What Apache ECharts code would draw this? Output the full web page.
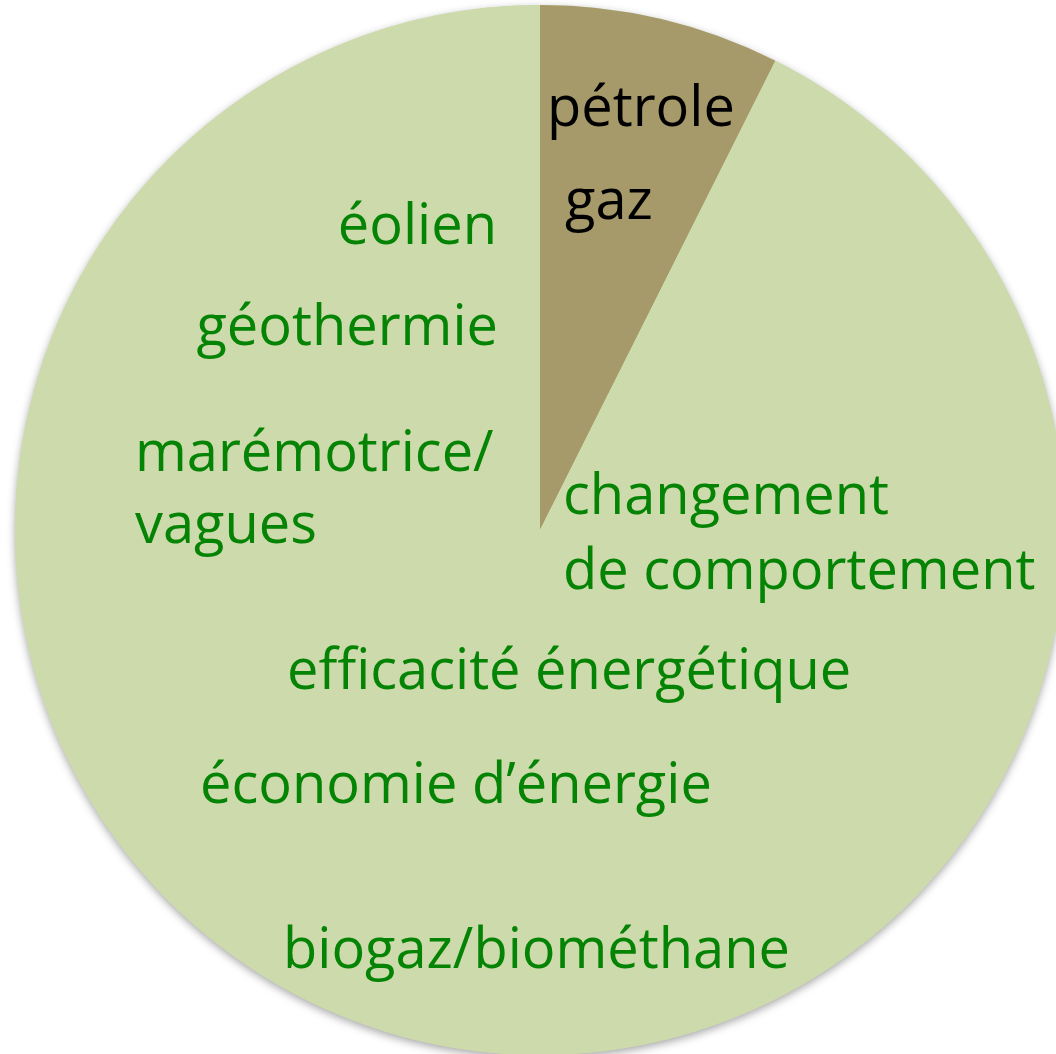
<!DOCTYPE html>
<html>
<head>
<meta charset="utf-8">
<script src="https://cdn.jsdelivr.net/npm/echarts@6/dist/echarts.min.js"></script>
<style>
  html, body { margin: 0; padding: 0; background: #ffffff; }
  #chart { width: 1056px; height: 1054px; }
</style>
</head>
<body>
<div id="chart"></div>
<script>
// Anteile (geschätzt aus dem Bild)
const sliceNames  = ['fossile', 'alternatives'];
const sliceValues = [7.4, 92.6];
const sliceColors = ['#A69A6A', '#CDDBAC'];

// Beschriftungen
const fossilLabels = ['pétrole', 'gaz'];
const greenLabels  = [
    'éolien', 'géothermie', 'marémotrice/', 'vagues',
    'changement', 'de comportement', 'efficacité énergétique',
    'économie d’énergie', 'biogaz/biométhane'
];

const FONT_SIZE = 56;
const FONT = FONT_SIZE + 'px "Open Sans", sans-serif';
const TEXT_GREEN = '#058305';

// Position: [x, Grundlinie, Ausrichtung]
const fossilPos = [[547, 128, 'left'], [565, 221, 'left']];
const greenPos  = [
    [497, 246, 'right'], [498, 347, 'right'], [135, 473, 'left'], [135, 545, 'left'],
    [563, 516, 'left'], [563, 591, 'left'], [287, 691, 'left'],
    [200, 805, 'left'], [283, 970, 'left']
];

function textItem(txt, pos, color) {
    return {
        type: 'text',
        silent: true,
        z: 10,
        style: {
            text: txt,
            x: pos[0],
            y: pos[1] - Math.round(FONT_SIZE * 0.33),
            align: pos[2],
            verticalAlign: 'middle',
            font: FONT,
            fill: color
        }
    };
}

const chart = echarts.init(document.getElementById('chart'));

const pieBase = {
    type: 'pie',
    center: [540, 530],
    radius: [0, 525],
    startAngle: 90,
    clockwise: true,
    silent: true,
    label: { show: false },
    labelLine: { show: false },
    emphasis: { disabled: true }
};

chart.setOption({
    backgroundColor: '#ffffff',
    animation: false,
    series: [
        // Schatten hinter dem Kreis
        {
            ...pieBase,
            z: 1,
            data: [{
                value: 1,
                itemStyle: {
                    color: '#CDDBAC',
                    shadowBlur: 8,
                    shadowColor: 'rgba(0,0,0,0.35)',
                    shadowOffsetY: 3
                }
            }]
        },
        {
            ...pieBase,
            z: 2,
            data: sliceNames.map((n, i) => ({
                name: n,
                value: sliceValues[i],
                itemStyle: { color: sliceColors[i] }
            }))
        }
    ],
    graphic: [
        ...fossilLabels.map((t, i) => textItem(t, fossilPos[i], '#000000')),
        ...greenLabels.map((t, i) => textItem(t, greenPos[i], TEXT_GREEN))
    ]
});

window.addEventListener('resize', () => chart.resize());
</script>
</body>
</html>
